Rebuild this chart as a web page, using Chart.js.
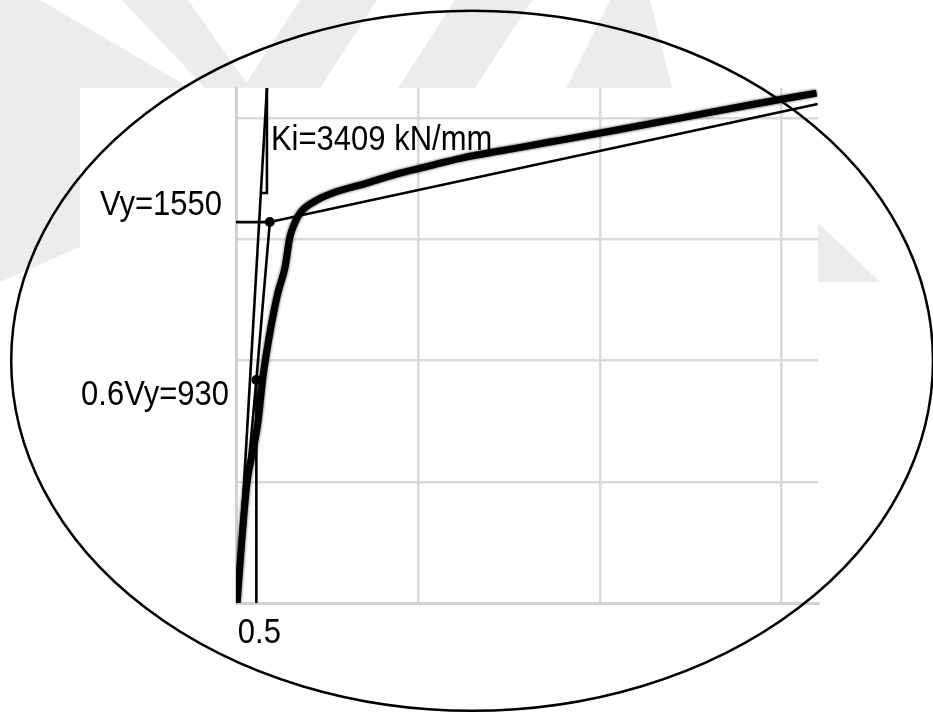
<!DOCTYPE html>
<html>
<head>
<meta charset="utf-8">
<script src="https://cdn.jsdelivr.net/npm/chart.js@4/dist/chart.umd.min.js"></script>
<style>
  html, body { margin: 0; padding: 0; background: #fff; }
  #wrap { width: 933px; height: 713px; }
</style>
</head>
<body>
<div id="wrap"><canvas id="chart" width="933" height="713"></canvas></div>
<script>
// pushover curve, displacement (mm) vs base shear (kN)
const curveX = [0.03, 0.16, 0.30, 0.47, 0.60, 0.74, 0.93, 1.15, 1.35, 1.48, 1.57, 1.76, 2.23, 2.66, 3.60, 4.51, 5.41, 6.32, 7.25, 8.63, 10.47, 12.28, 14.12, 15.96];
const curveY = [0, 260, 495, 631, 742, 932, 1113, 1278, 1386, 1509, 1551, 1608, 1662, 1691, 1732, 1773, 1806, 1839, 1864, 1901, 1951, 2002, 2054, 2103];

// bilinear idealisation
const bilinX = [0, 0.56, 0.93, 15.99];
const bilinY = [0, 920, 1571, 2058];

// initial stiffness line and its slope triangle
const tangentX = [0.03, 0.85];
const tangentY = [0, 2124];
const triX = [0.69, 0.85, 0.85];
const triY = [1691, 1691, 2124];

// yield level marker and drop line
const vyLineX = [0, 0.93];
const vyLineY = [1571, 1571];
const dropX = [0.56, 0.56];
const dropY = [920, 0];
const dotX = [0.56, 0.93];
const dotY = [920, 1571];

// grid ticks (no labels shown)
const xTicks = [0, 5, 10, 15];
const yTicks = [0, 500, 1000, 1500, 2000];

// annotation texts
const vyText = 'Vy=1550';
const vy06Text = '0.6Vy=930';
const kiText = 'Ki=3409 kN/mm';
const dispText = '0.5';

const pts = (xs, ys) => xs.map((x, i) => ({ x: x, y: ys[i] }));

const line = (data, width, smooth) => ({
  data: data,
  showLine: true,
  borderColor: '#000',
  borderWidth: width,
  pointRadius: 0,
  fill: false,
  cubicInterpolationMode: smooth ? 'monotone' : 'default',
  tension: smooth ? 0.4 : 0
});

// faint watermark + white chart background + ellipse + labels
const decor = {
  id: 'decor',
  beforeDraw: (chart) => {
    const ctx = chart.ctx;
    const a = chart.chartArea;
    ctx.save();
    ctx.fillStyle = '#fff';
    ctx.fillRect(0, 0, chart.width, chart.height);
    ctx.fillStyle = '#ececec';
    const polys = [
      [[0, 0], [40, 0], [190, 88], [0, 88]],
      [[122, 0], [188, 0], [250, 88], [205, 88]],
      [[300, 0], [377, 0], [320, 88], [243, 88]],
      [[455, 0], [532, 0], [475, 88], [398, 88]],
      [[610, 0], [650, 0], [672, 88], [566, 88]],
      [[0, 88], [80, 88], [80, 247], [0, 282]],
      [[818, 223], [880, 282], [818, 282]]
    ];
    polys.forEach(p => {
      ctx.beginPath();
      p.forEach((q, i) => i ? ctx.lineTo(q[0], q[1]) : ctx.moveTo(q[0], q[1]));
      ctx.closePath();
      ctx.fill();
    });
    ctx.fillStyle = '#fff';
    ctx.fillRect(a.left - 156, a.top, a.right - a.left + 156, chart.height - a.top);
    ctx.restore();
  },
  // soft edge on the thick curve, like the scanned picture
  beforeDatasetDraw: (chart, args) => {
    if (args.index === 0) {
      chart.ctx.shadowColor = 'rgba(0,0,0,0.8)';
      chart.ctx.shadowBlur = 3;
    }
  },
  afterDatasetDraw: (chart, args) => {
    if (args.index === 0) {
      chart.ctx.shadowColor = 'rgba(0,0,0,0)';
      chart.ctx.shadowBlur = 0;
    }
  },
  afterDraw: (chart) => {
    const ctx = chart.ctx;
    const xs = chart.scales.x;
    const ys = chart.scales.y;
    ctx.save();
    ctx.fillStyle = '#000';
    dotX.forEach((x, i) => {
      ctx.beginPath();
      ctx.arc(xs.getPixelForValue(x), ys.getPixelForValue(dotY[i]), 5, 0, Math.PI * 2);
      ctx.fill();
    });
    // labels, slightly stretched vertically like the scan
    const txt = (s, x, y, align) => {
      ctx.save();
      ctx.translate(x, y);
      ctx.scale(1, 1.15);
      ctx.textAlign = align;
      ctx.textBaseline = 'alphabetic';
      ctx.font = '31px "Liberation Sans", Arial, sans-serif';
      ctx.fillText(s, 0, 0);
      ctx.restore();
    };
    const x0 = xs.getPixelForValue(0);
    txt(vyText, x0 - 14, ys.getPixelForValue(vyLineY[0]) - 7, 'right');
    txt(vy06Text, x0 - 7, ys.getPixelForValue(dotY[0]) + 25, 'right');
    txt(kiText, xs.getPixelForValue(triX[1]) + 4, ys.getPixelForValue(1870), 'left');
    txt(dispText, xs.getPixelForValue(dropX[0]) + 3, ys.getPixelForValue(0) + 40, 'center');
    // hand-drawn ellipse
    ctx.strokeStyle = '#000';
    ctx.lineWidth = 2.5;
    ctx.beginPath();
    ctx.ellipse(chart.width * 0.506, chart.height * 0.506, chart.width * 0.494, chart.height * 0.491, 0, 0, Math.PI * 2);
    ctx.stroke();
    ctx.restore();
  }
};

const fixTicks = (vals) => (scale) => { scale.ticks = vals.map(v => ({ value: v })); };

new Chart(document.getElementById('chart'), {
  type: 'scatter',
  data: {
    datasets: [
      line(pts(curveX, curveY), 7, true),
      line(pts(bilinX, bilinY), 2.6),
      line(pts(tangentX, tangentY), 2.6),
      line(pts(triX, triY), 2.6),
      line(pts(vyLineX, vyLineY), 2.6),
      line(pts(dropX, dropY), 2.6)
    ]
  },
  options: {
    responsive: false,
    devicePixelRatio: 1,
    animation: false,
    events: [],
    layout: { padding: { left: 236, top: 88, right: 115, bottom: 110 } },
    plugins: { legend: { display: false }, tooltip: { enabled: false } },
    scales: {
      x: {
        type: 'linear', min: 0, max: 16,
        afterBuildTicks: fixTicks(xTicks),
        ticks: { display: false },
        grid: { color: '#dadada', lineWidth: 2.5, drawTicks: false },
        border: { color: '#d2d2d2', width: 3 }
      },
      y: {
        type: 'linear', min: 0, max: 2124,
        afterBuildTicks: fixTicks(yTicks),
        ticks: { display: false },
        grid: { color: '#dadada', lineWidth: 2.5, drawTicks: false },
        border: { color: '#d2d2d2', width: 3 }
      }
    }
  },
  plugins: [decor]
});
</script>
</body>
</html>
